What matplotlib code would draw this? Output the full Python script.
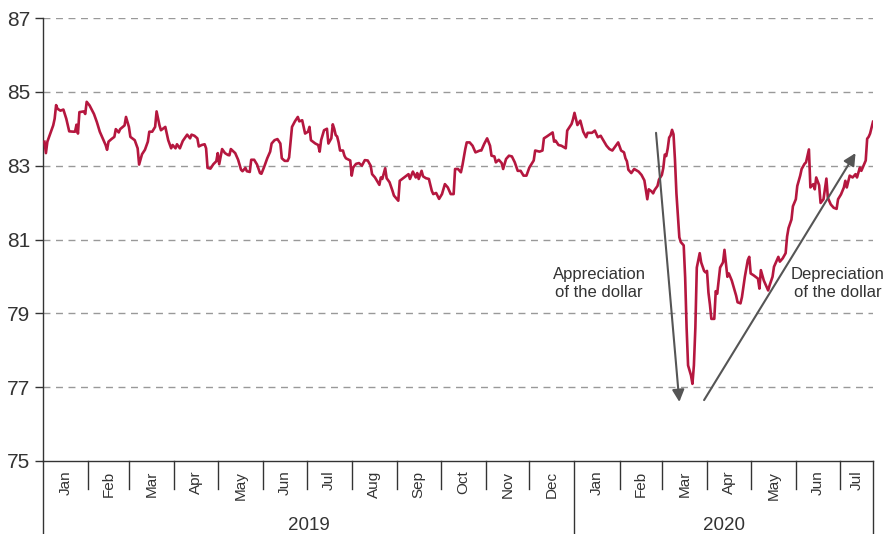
import pandas as pd
import matplotlib
matplotlib.use('Agg')
from matplotlib import pyplot as plt
import matplotlib.transforms as mtransforms

plt.rcParams['font.family'] = ['Liberation Sans', 'DejaVu Sans']

# Index readings, one row per month
dates = [
    '2019-01-02', '2019-01-03', '2019-01-04', '2019-01-06', '2019-01-08', '2019-01-09', '2019-01-10',
    '2019-01-11', '2019-01-13', '2019-01-15', '2019-01-17', '2019-01-19', '2019-01-22', '2019-01-23',
    '2019-01-24', '2019-01-25', '2019-01-26', '2019-01-29', '2019-01-30', '2019-01-31',
    '2019-02-02', '2019-02-05', '2019-02-07', '2019-02-09', '2019-02-10', '2019-02-13', '2019-02-14',
    '2019-02-15', '2019-02-17', '2019-02-19', '2019-02-20', '2019-02-22', '2019-02-23', '2019-02-26',
    '2019-02-27',
    '2019-03-01', '2019-03-02', '2019-03-05', '2019-03-07', '2019-03-08', '2019-03-10', '2019-03-12',
    '2019-03-14', '2019-03-15', '2019-03-17', '2019-03-19', '2019-03-20', '2019-03-22', '2019-03-23',
    '2019-03-26', '2019-03-28', '2019-03-30', '2019-03-31',
    '2019-04-02', '2019-04-03', '2019-04-05', '2019-04-07', '2019-04-10', '2019-04-12', '2019-04-13',
    '2019-04-15', '2019-04-17', '2019-04-18', '2019-04-20', '2019-04-22', '2019-04-23', '2019-04-24',
    '2019-04-26', '2019-04-28', '2019-04-30',
    '2019-05-01', '2019-05-02', '2019-05-04', '2019-05-06', '2019-05-08', '2019-05-09', '2019-05-10',
    '2019-05-13', '2019-05-15', '2019-05-17', '2019-05-18', '2019-05-20', '2019-05-21', '2019-05-23',
    '2019-05-24', '2019-05-26', '2019-05-28', '2019-05-30', '2019-05-31',
    '2019-06-02', '2019-06-04', '2019-06-06', '2019-06-07', '2019-06-09', '2019-06-11', '2019-06-13',
    '2019-06-14', '2019-06-16', '2019-06-18', '2019-06-19', '2019-06-21', '2019-06-23', '2019-06-25',
    '2019-06-26', '2019-06-28', '2019-06-30',
    '2019-07-02', '2019-07-03', '2019-07-04', '2019-07-07', '2019-07-09', '2019-07-10', '2019-07-11',
    '2019-07-13', '2019-07-15', '2019-07-16', '2019-07-18', '2019-07-19', '2019-07-20', '2019-07-21',
    '2019-07-22', '2019-07-23', '2019-07-24', '2019-07-26', '2019-07-27', '2019-07-28', '2019-07-31',
    '2019-08-01', '2019-08-02', '2019-08-04', '2019-08-06', '2019-08-08', '2019-08-10', '2019-08-12',
    '2019-08-14', '2019-08-15', '2019-08-17', '2019-08-20', '2019-08-21', '2019-08-22', '2019-08-24',
    '2019-08-25', '2019-08-27', '2019-08-29', '2019-08-30',
    '2019-09-02', '2019-09-03', '2019-09-06', '2019-09-09', '2019-09-10', '2019-09-12', '2019-09-14',
    '2019-09-15', '2019-09-16', '2019-09-18', '2019-09-19', '2019-09-21', '2019-09-23', '2019-09-25',
    '2019-09-26', '2019-09-28', '2019-09-30',
    '2019-10-02', '2019-10-04', '2019-10-06', '2019-10-08', '2019-10-10', '2019-10-11', '2019-10-13',
    '2019-10-15', '2019-10-16', '2019-10-18', '2019-10-19', '2019-10-21', '2019-10-23', '2019-10-25',
    '2019-10-28', '2019-10-29', '2019-10-31',
    '2019-11-02', '2019-11-04', '2019-11-05', '2019-11-07', '2019-11-08', '2019-11-10', '2019-11-12',
    '2019-11-13', '2019-11-15', '2019-11-17', '2019-11-19', '2019-11-21', '2019-11-23', '2019-11-25',
    '2019-11-27', '2019-11-29',
    '2019-12-01', '2019-12-04', '2019-12-05', '2019-12-08', '2019-12-10', '2019-12-11', '2019-12-13',
    '2019-12-17', '2019-12-18', '2019-12-19', '2019-12-21', '2019-12-23', '2019-12-26', '2019-12-27',
    '2019-12-30', '2019-12-31',
    '2020-01-01', '2020-01-02', '2020-01-03', '2020-01-05', '2020-01-07', '2020-01-09', '2020-01-10',
    '2020-01-13', '2020-01-15', '2020-01-17', '2020-01-19', '2020-01-20', '2020-01-23', '2020-01-25',
    '2020-01-27', '2020-01-31',
    '2020-02-02', '2020-02-04', '2020-02-05', '2020-02-06', '2020-02-07', '2020-02-09', '2020-02-11',
    '2020-02-14', '2020-02-16', '2020-02-18', '2020-02-19', '2020-02-20', '2020-02-21', '2020-02-23',
    '2020-02-24', '2020-02-25', '2020-02-27', '2020-02-28',
    '2020-03-01', '2020-03-02', '2020-03-03', '2020-03-04', '2020-03-05', '2020-03-06', '2020-03-07',
    '2020-03-08', '2020-03-09', '2020-03-10', '2020-03-11', '2020-03-13', '2020-03-14', '2020-03-16',
    '2020-03-17', '2020-03-18', '2020-03-19', '2020-03-21', '2020-03-22', '2020-03-23', '2020-03-24',
    '2020-03-25', '2020-03-27', '2020-03-28', '2020-03-30', '2020-03-31',
    '2020-04-01', '2020-04-02', '2020-04-03', '2020-04-04', '2020-04-06', '2020-04-07', '2020-04-08',
    '2020-04-10', '2020-04-12', '2020-04-13', '2020-04-14', '2020-04-15', '2020-04-16', '2020-04-18',
    '2020-04-20', '2020-04-21', '2020-04-22', '2020-04-24', '2020-04-25', '2020-04-27', '2020-04-29',
    '2020-04-30',
    '2020-05-01', '2020-05-03', '2020-05-06', '2020-05-07', '2020-05-08', '2020-05-10', '2020-05-13',
    '2020-05-14', '2020-05-16', '2020-05-17', '2020-05-20', '2020-05-21', '2020-05-23', '2020-05-25',
    '2020-05-26', '2020-05-27', '2020-05-29', '2020-05-30',
    '2020-06-01', '2020-06-02', '2020-06-04', '2020-06-05', '2020-06-07', '2020-06-08', '2020-06-10',
    '2020-06-11', '2020-06-13', '2020-06-14', '2020-06-15', '2020-06-17', '2020-06-18', '2020-06-20',
    '2020-06-22', '2020-06-23', '2020-06-25', '2020-06-27', '2020-06-29', '2020-06-30',
    '2020-07-02', '2020-07-04', '2020-07-05', '2020-07-06', '2020-07-08', '2020-07-10', '2020-07-12',
    '2020-07-13', '2020-07-15', '2020-07-16', '2020-07-18', '2020-07-19', '2020-07-20', '2020-07-21',
    '2020-07-22', '2020-07-24',
]
index_values = [
    83.65, 83.34, 83.65, 83.87, 84.09, 84.27, 84.64,
    84.54, 84.49, 84.52, 84.27, 83.93, 83.92, 83.92,
    84.11, 83.87, 84.45, 84.47, 84.40, 84.73,
    84.63, 84.40, 84.18, 83.92, 83.83, 83.56, 83.43,
    83.65, 83.72, 83.78, 83.99, 83.90, 83.99, 84.09,
    84.32,
    84.05, 83.78, 83.69, 83.47, 83.03, 83.31, 83.43,
    83.65, 83.92, 83.92, 84.05, 84.47, 84.09, 83.96,
    84.05, 83.69, 83.47, 83.56,
    83.47, 83.58, 83.47, 83.67, 83.84, 83.74, 83.84,
    83.81, 83.74, 83.52, 83.56, 83.58, 83.47, 82.94,
    82.92, 83.04, 83.12,
    83.34, 83.04, 83.45, 83.34, 83.29, 83.28, 83.45,
    83.34, 83.16, 82.89, 82.85, 82.94, 82.85, 82.83,
    83.16, 83.16, 83.03, 82.80, 82.78,
    82.98, 83.20, 83.38, 83.60, 83.69, 83.72, 83.60,
    83.20, 83.13, 83.13, 83.22, 84.05, 84.20, 84.32,
    84.20, 84.23, 83.87,
    83.92, 84.05, 83.69, 83.60, 83.56, 83.38, 83.69,
    83.96, 84.00, 83.60, 83.74, 84.12, 84.00, 83.83,
    83.79, 83.63, 83.41, 83.41, 83.27, 83.20, 83.14,
    82.73, 82.95, 83.05, 83.07, 83.00, 83.15, 83.14,
    83.00, 82.77, 82.68, 82.48, 82.68, 82.64, 82.93,
    82.66, 82.55, 82.32, 82.19,
    82.05, 82.59, 82.68, 82.77, 82.64, 82.84, 82.68,
    82.80, 82.64, 82.86, 82.71, 82.66, 82.64, 82.32,
    82.23, 82.26, 82.10,
    82.23, 82.50, 82.41, 82.23, 82.23, 82.91, 82.91,
    82.82, 83.00, 83.45, 83.63, 83.63, 83.54, 83.36,
    83.41, 83.41, 83.59,
    83.74, 83.54, 83.27, 83.25, 83.09, 83.16, 83.07,
    82.91, 83.18, 83.27, 83.25, 83.09, 82.86, 82.86,
    82.73, 82.73,
    82.95, 83.14, 83.41, 83.38, 83.41, 83.74, 83.79,
    83.90, 83.65, 83.68, 83.56, 83.54, 83.47, 83.95,
    84.13, 84.26,
    84.43, 84.26, 84.10, 84.22, 83.92, 83.77, 83.89,
    83.89, 83.95, 83.77, 83.81, 83.74, 83.54, 83.45,
    83.41, 83.63,
    83.41, 83.36, 83.20, 83.12, 82.89, 82.80, 82.91,
    82.84, 82.75, 82.60, 82.34, 82.09, 82.36, 82.30,
    82.25, 82.34, 82.45, 82.62,
    82.75, 82.94, 83.30, 83.26, 83.46, 83.76, 83.82,
    83.97, 83.85, 83.16, 82.25, 81.06, 80.93, 80.84,
    79.97, 78.60, 77.59, 77.32, 77.09, 77.59, 78.60,
    80.24, 80.63, 80.38, 80.15, 80.11,
    80.15, 79.56, 79.24, 78.85, 78.85, 79.60, 79.53,
    80.24, 80.38, 80.72, 80.35, 79.99, 80.08, 79.89,
    79.62, 79.48, 79.30, 79.27, 79.44, 79.99, 80.44,
    80.53,
    80.08, 80.03, 79.94, 79.67, 80.17, 79.89, 79.62,
    79.76, 79.99, 80.26, 80.53, 80.40, 80.49, 80.63,
    81.08, 81.31, 81.54, 81.90,
    82.09, 82.45, 82.73, 82.91, 83.05, 83.09, 83.44,
    82.41, 82.50, 82.36, 82.68, 82.47, 81.99, 82.09,
    82.65, 82.13, 81.95, 81.86, 81.83, 82.09,
    82.22, 82.41, 82.59, 82.41, 82.73, 82.68, 82.77,
    82.68, 82.95, 82.86, 83.05, 83.14, 83.73, 83.78,
    83.87, 84.19,
]

month_labels = ['Jan', 'Feb', 'Mar', 'Apr', 'May', 'Jun', 'Jul', 'Aug', 'Sep', 'Oct', 'Nov', 'Dec',
                'Jan', 'Feb', 'Mar', 'Apr', 'May', 'Jun', 'Jul']
year_labels = ['2019', '2020']
yticks = [75, 77, 79, 81, 83, 85, 87]

start = pd.Timestamp('2019-01-01')
end = pd.Timestamp('2020-07-24')

line_color = '#B5173F'
dark = '#333333'

fig = plt.figure(figsize=(8.93, 5.34), dpi=100)
ax = fig.add_axes([43 / 893, 1 - 461 / 534, 830 / 893, 443 / 534])

# dashed grid
for y in yticks[1:]:
    ax.axhline(y, color='#999999', lw=1.0, ls=(0, (5, 4)), zorder=0)

ax.plot(pd.to_datetime(dates), index_values, color=line_color, lw=1.9, zorder=3)

ax.set_xlim(start, end)
ax.set_ylim(75, 87)
ax.set_yticks(yticks)
ax.set_xticks([])
for s in ['top', 'right']:
    ax.spines[s].set_visible(False)
for s in ['left', 'bottom']:
    ax.spines[s].set_color(dark)
    ax.spines[s].set_linewidth(1.0)
ax.tick_params(axis='y', length=6, width=1, color=dark, labelsize=15, labelcolor=dark, pad=3)

# month / year separators and labels below the axis
trans = mtransforms.blended_transform_factory(ax.transData, ax.transAxes)
bounds = list(pd.date_range('2019-01-01', '2020-07-01', freq='MS')) + [end]
for i, b in enumerate(bounds):
    long_line = (b.month == 1) or (i == len(bounds) - 1)
    ax.plot([b, b], [0, -0.165 if long_line else -0.063], transform=trans,
            color=dark, lw=1.0, clip_on=False)
for i, lab in enumerate(month_labels):
    mid = bounds[i] + (bounds[i + 1] - bounds[i]) / 2
    ax.text(mid, -0.022, lab, transform=trans, rotation=90, ha='center', va='top',
            fontsize=11, color=dark)
year_bounds = [start, pd.Timestamp('2020-01-01'), end]
for i, lab in enumerate(year_labels):
    mid = year_bounds[i] + (year_bounds[i + 1] - year_bounds[i]) / 2
    ax.text(mid, -0.145, lab, transform=trans, ha='center', va='center', fontsize=13.5, color=dark)

# annotations
arrow = dict(arrowstyle='-|>', color='#555555', lw=1.5, mutation_scale=18, shrinkA=0, shrinkB=0)
ax.annotate('', xy=(pd.Timestamp('2020-03-13'), 76.6), xytext=(pd.Timestamp('2020-02-26'), 83.89),
            arrowprops=arrow, zorder=4)
ax.annotate('', xy=(pd.Timestamp('2020-07-12'), 83.34), xytext=(pd.Timestamp('2020-03-30'), 76.65),
            arrowprops=arrow, zorder=4)
ax.text(pd.Timestamp('2020-01-18'), 79.8, 'Appreciation\nof the dollar', ha='center', va='center',
        fontsize=12, color=dark, linespacing=1.25)
ax.text(pd.Timestamp('2020-06-30'), 79.8, 'Depreciation\nof the dollar', ha='center', va='center',
        fontsize=12, color=dark, linespacing=1.25, clip_on=False)

plt.savefig('out.png', dpi=100)
